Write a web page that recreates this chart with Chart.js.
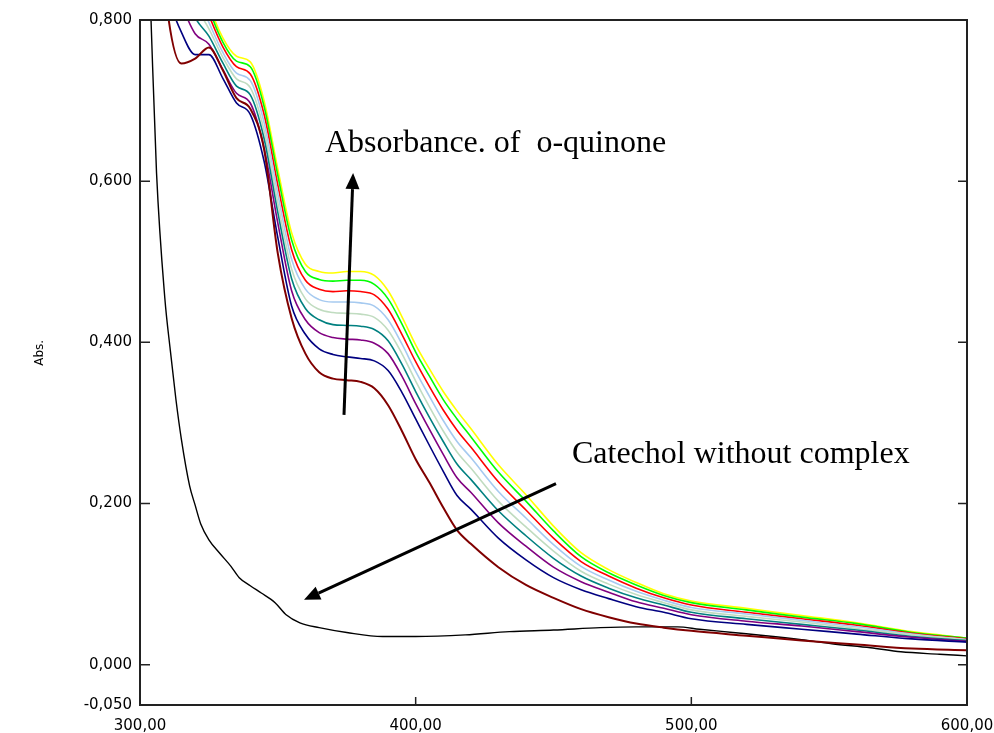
<!DOCTYPE html>
<html>
<head>
<meta charset="utf-8">
<script src="https://cdn.jsdelivr.net/npm/chart.js@4.4.0/dist/chart.umd.min.js"></script>
<style>
  html, body { margin: 0; padding: 0; background: #fff; }
  #wrap { width: 994px; height: 733px; }
</style>
</head>
<body>
<div id="wrap"><canvas id="spectra" width="994" height="733"></canvas></div>
<script>
// wavelength grid (nm) for the complex spectra
const wavelengths = [305, 310, 315, 320, 325, 330, 335, 340, 345, 350, 355, 360, 365, 370, 375, 380, 385, 390, 395, 400,
    405, 410, 415, 420, 430, 440, 450, 460, 470, 480, 490, 500, 520, 540, 560, 580, 600];

// absorbance, one array per scan
const absYellow = [1.10, 1.02, 0.95, 0.88, 0.82, 0.778, 0.755, 0.748, 0.700, 0.615, 0.536, 0.497, 0.488, 0.486, 0.488, 0.488, 0.483, 0.464, 0.432, 0.397,
    0.367, 0.339, 0.315, 0.293, 0.248, 0.211, 0.172, 0.139, 0.118, 0.102, 0.088, 0.079, 0.070, 0.061, 0.052, 0.041, 0.033];
const absGreen = [1.08, 1.001, 0.934, 0.868, 0.814, 0.773, 0.749, 0.742, 0.693, 0.607, 0.527, 0.488, 0.478, 0.476, 0.477, 0.477, 0.472, 0.454, 0.423, 0.388,
    0.358, 0.329, 0.305, 0.283, 0.239, 0.203, 0.166, 0.134, 0.114, 0.099, 0.086, 0.077, 0.068, 0.059, 0.051, 0.040, 0.033];
const absRed = [1.054, 0.976, 0.912, 0.852, 0.806, 0.767, 0.742, 0.733, 0.683, 0.595, 0.515, 0.477, 0.466, 0.463, 0.464, 0.463, 0.459, 0.441, 0.410, 0.376,
    0.345, 0.316, 0.291, 0.270, 0.227, 0.192, 0.157, 0.128, 0.110, 0.095, 0.083, 0.074, 0.065, 0.057, 0.049, 0.039, 0.032];
const absLightBlue = [1.028, 0.952, 0.891, 0.836, 0.797, 0.760, 0.734, 0.725, 0.673, 0.584, 0.503, 0.466, 0.453, 0.450, 0.450, 0.449, 0.445, 0.428, 0.398, 0.364,
    0.333, 0.303, 0.277, 0.257, 0.215, 0.182, 0.149, 0.122, 0.105, 0.091, 0.080, 0.071, 0.063, 0.055, 0.047, 0.038, 0.031];
const absLightGreen = [1.002, 0.927, 0.869, 0.820, 0.789, 0.754, 0.727, 0.716, 0.663, 0.573, 0.491, 0.454, 0.441, 0.437, 0.436, 0.435, 0.431, 0.415, 0.386, 0.352,
    0.320, 0.290, 0.264, 0.244, 0.203, 0.171, 0.141, 0.116, 0.100, 0.087, 0.077, 0.068, 0.060, 0.053, 0.045, 0.037, 0.031];
const absTeal = [0.974, 0.900, 0.846, 0.803, 0.780, 0.747, 0.718, 0.707, 0.653, 0.561, 0.479, 0.442, 0.428, 0.422, 0.421, 0.420, 0.416, 0.402, 0.373, 0.339,
    0.307, 0.277, 0.249, 0.230, 0.191, 0.160, 0.132, 0.110, 0.095, 0.083, 0.074, 0.065, 0.057, 0.050, 0.043, 0.035, 0.030];
const absPurple = [0.942, 0.870, 0.820, 0.783, 0.770, 0.739, 0.709, 0.697, 0.641, 0.548, 0.464, 0.428, 0.412, 0.406, 0.404, 0.403, 0.399, 0.386, 0.358, 0.324,
    0.292, 0.261, 0.232, 0.214, 0.176, 0.147, 0.121, 0.103, 0.090, 0.078, 0.070, 0.062, 0.054, 0.048, 0.041, 0.034, 0.029];
const absNavy = [0.90, 0.83, 0.785, 0.757, 0.757, 0.728, 0.697, 0.683, 0.625, 0.530, 0.445, 0.410, 0.392, 0.385, 0.382, 0.380, 0.377, 0.365, 0.338, 0.305,
    0.272, 0.240, 0.210, 0.193, 0.157, 0.130, 0.108, 0.093, 0.082, 0.072, 0.065, 0.057, 0.050, 0.044, 0.038, 0.032, 0.028];
const absMaroon = [1.0, 0.81, 0.746, 0.752, 0.766, 0.738, 0.703, 0.690, 0.640, 0.510, 0.430, 0.386, 0.363, 0.355, 0.353, 0.351, 0.343, 0.322, 0.290, 0.255,
    0.226, 0.195, 0.167, 0.150, 0.121, 0.099, 0.083, 0.069, 0.059, 0.051, 0.046, 0.042, 0.036, 0.030, 0.025, 0.020, 0.018];

// catechol alone, own wavelength points
const catecholWl = [302, 304, 306, 309, 311, 313, 315, 318, 320, 322, 325, 329, 333, 336, 340, 344, 349, 353, 358, 365,
    375, 388, 400, 418, 434, 450, 467, 480, 495, 503, 515, 527, 540, 551, 565, 576, 590, 600];
const catecholAbs = [1.0, 0.80, 0.61, 0.455, 0.39, 0.33, 0.28, 0.222, 0.198, 0.175, 0.155, 0.138, 0.122, 0.108, 0.098, 0.089, 0.077, 0.062, 0.052, 0.046,
    0.040, 0.035, 0.035, 0.037, 0.041, 0.043, 0.046, 0.047, 0.047, 0.044, 0.040, 0.036, 0.031, 0.026, 0.021, 0.016, 0.013, 0.011];

const xTicks = [300, 400, 500, 600];
const yTicks = [-0.05, 0, 0.2, 0.4, 0.6, 0.8];

function toPoints(xs, ys) {
    return xs.map((x, i) => ({ x: x, y: ys[i] }));
}

function line(values, color, width, xs) {
    return {
        data: toPoints(xs || wavelengths, values),
        borderColor: color,
        borderWidth: width,
        pointRadius: 0,
        fill: false,
        cubicInterpolationMode: 'monotone'
    };
}

// first dataset ends up on top
const datasets = [
    line(absMaroon, '#800000', 2),
    line(absNavy, '#000080', 1.6),
    line(absPurple, '#800080', 1.6),
    line(absTeal, '#008080', 1.6),
    line(absLightGreen, '#c0dcc0', 1.6),
    line(absLightBlue, '#a6caf0', 1.6),
    line(absRed, '#ff0000', 1.6),
    line(absGreen, '#00ff00', 1.6),
    line(absYellow, '#ffff00', 1.6),
    line(catecholAbs, '#000000', 1.4, catecholWl)
];

function arrow(ctx, x0, y0, x1, y1) {
    const ang = Math.atan2(y1 - y0, x1 - x0);
    const len = 16, half = 7;
    const bx = x1 - len * Math.cos(ang), by = y1 - len * Math.sin(ang);
    ctx.beginPath();
    ctx.moveTo(x0, y0);
    ctx.lineTo(bx, by);
    ctx.stroke();
    ctx.beginPath();
    ctx.moveTo(x1, y1);
    ctx.lineTo(bx + half * Math.sin(ang), by - half * Math.cos(ang));
    ctx.lineTo(bx - half * Math.sin(ang), by + half * Math.cos(ang));
    ctx.closePath();
    ctx.fill();
}

// frame, inward tick marks, arrows and captions
const decorPlugin = {
    id: 'decor',
    afterDraw(chart) {
        const { ctx, chartArea: a, scales: { x, y } } = chart;
        ctx.save();
        ctx.strokeStyle = '#222';
        ctx.lineWidth = 2;
        ctx.strokeRect(a.left, a.top, a.right - a.left, a.bottom - a.top);

        ctx.lineWidth = 1.5;
        ctx.beginPath();
        yTicks.forEach(v => {
            const py = y.getPixelForValue(v);
            ctx.moveTo(a.left, py); ctx.lineTo(a.left + 10, py);
            ctx.moveTo(a.right, py); ctx.lineTo(a.right - 9, py);
        });
        xTicks.forEach(v => {
            const px = x.getPixelForValue(v);
            ctx.moveTo(px, a.bottom); ctx.lineTo(px, a.bottom - 8);
        });
        ctx.stroke();

        ctx.strokeStyle = '#000';
        ctx.fillStyle = '#000';
        ctx.lineWidth = 3;
        arrow(ctx, x.getPixelForValue(374.0), y.getPixelForValue(0.310),
            x.getPixelForValue(377.3), y.getPixelForValue(0.610));
        arrow(ctx, x.getPixelForValue(450.9), y.getPixelForValue(0.2246),
            x.getPixelForValue(359.5), y.getPixelForValue(0.0806));

        ctx.font = '32px "Liberation Serif", "Times New Roman", serif';
        ctx.textAlign = 'left';
        ctx.textBaseline = 'alphabetic';
        ctx.fillText('Absorbance. of  o-quinone', x.getPixelForValue(367.1), y.getPixelForValue(0.636));
        ctx.fillText('Catechol without complex', x.getPixelForValue(456.7), y.getPixelForValue(0.250));

        ctx.font = '12px "DejaVu Sans", sans-serif';
        ctx.translate(40, y.getPixelForValue(0.387));
        ctx.rotate(-Math.PI / 2);
        ctx.textAlign = 'center';
        ctx.textBaseline = 'middle';
        ctx.fillText('Abs.', 0, 0);
        ctx.restore();
    }
};

const tickFont = { family: '"DejaVu Sans", sans-serif', size: 15 };

new Chart(document.getElementById('spectra'), {
    type: 'line',
    data: { datasets: datasets },
    options: {
        responsive: false,
        animation: false,
        layout: { padding: { top: 20, right: 27, left: 0, bottom: 0 } },
        plugins: {
            legend: { display: false },
            tooltip: { enabled: false }
        },
        scales: {
            x: {
                type: 'linear',
                min: 300,
                max: 600,
                afterBuildTicks: s => { s.ticks = xTicks.map(v => ({ value: v })); },
                afterFit: s => { s.height = 28; s.paddingLeft = 0; s.paddingRight = 0; },
                grid: { display: false, drawTicks: false },
                border: { display: false },
                ticks: {
                    font: tickFont,
                    color: '#000',
                    padding: 12,
                    maxRotation: 0,
                    autoSkip: false,
                    callback: v => v.toFixed(2).replace('.', ',')
                }
            },
            y: {
                min: -0.05,
                max: 0.8,
                afterBuildTicks: s => { s.ticks = yTicks.map(v => ({ value: v })); },
                afterFit: s => { s.width = 140; s.paddingTop = 0; s.paddingBottom = 0; },
                grid: { display: false, drawTicks: false },
                border: { display: false },
                ticks: {
                    font: tickFont,
                    color: '#000',
                    padding: 8,
                    autoSkip: false,
                    callback: v => v.toFixed(3).replace('.', ',')
                }
            }
        }
    },
    plugins: [decorPlugin]
});
</script>
</body>
</html>
